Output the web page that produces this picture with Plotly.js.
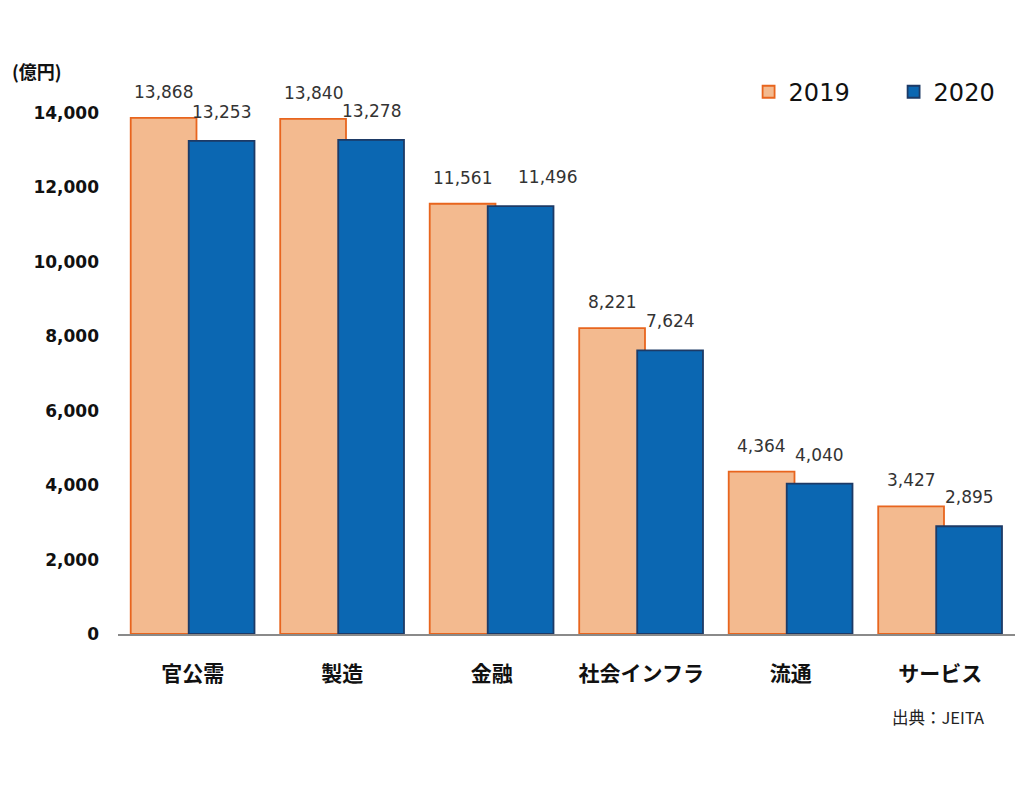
<!DOCTYPE html>
<html>
<head>
<meta charset="utf-8">
<script src="https://cdn.plot.ly/plotly-3.0.1.min.js"></script>
<style>html,body{margin:0;padding:0;background:#fff;}#chart{width:1033px;height:809px;}</style>
</head>
<body>
<div id="chart"></div>
<script>
const categories = ["官公需", "製造", "金融", "社会インフラ", "流通", "サービス"];
const values2019 = [13868, 13840, 11561, 8221, 4364, 3427];
const values2020 = [13253, 13278, 11496, 7624, 4040, 2895];
const seriesNames = ["2019", "2020"];
const yTicks = [0, 2000, 4000, 6000, 8000, 10000, 12000, 14000];

const fmt = v => v.toLocaleString("en-US");
const labelFont = {family: "DejaVu Sans, Verdana, sans-serif", size: 17, color: "#333333"};

const traces = [
  {
    type: "bar", name: seriesNames[0], x: categories, y: values2019,
    offset: -0.415, width: 0.44,
    marker: {color: "#F3BA8F", line: {color: "#E8651E", width: 1.8}},
    hoverinfo: "x+y"
  },
  {
    type: "bar", name: seriesNames[1], x: categories, y: values2020,
    offset: -0.027, width: 0.44,
    marker: {color: "#0B67B2", line: {color: "#1D3A66", width: 1.8}},
    hoverinfo: "x+y"
  }
];

const annotations = [];
categories.forEach((c, i) => {
  // when both values are nearly equal, the 2020 label is nudged right so the two labels do not collide
  const close = Math.abs(values2019[i] - values2020[i]) < 300;
  annotations.push({x: c, y: values2019[i], text: fmt(values2019[i]), showarrow: false,
    xanchor: "center", yanchor: "bottom", xshift: -29, yshift: 14, font: labelFont});
  annotations.push({x: c, y: values2020[i], text: fmt(values2020[i]), showarrow: false,
    xanchor: "center", yanchor: "bottom", xshift: close ? 56 : 29, yshift: 17, font: labelFont});
});
annotations.push({xref: "paper", yref: "paper", x: -0.12, y: 1.08, xanchor: "left", yanchor: "middle",
  text: "<b>(億円)</b>", showarrow: false,
  font: {family: "Noto Sans CJK JP, DejaVu Sans, sans-serif", size: 18, color: "#111"}});
annotations.push({xref: "paper", yref: "paper", x: 0.968, y: -0.16, xanchor: "right", yanchor: "middle",
  text: "出典：JEITA", showarrow: false,
  font: {family: "Noto Sans CJK JP, sans-serif", size: 16.5, color: "#222"}});

const layout = {
  width: 1033, height: 809,
  margin: {l: 118, r: 18, t: 113, b: 175, autoexpand: false},
  paper_bgcolor: "#fff", plot_bgcolor: "#fff",
  barmode: "overlay",
  showlegend: true,
  legend: {orientation: "h", x: 0.703, y: 1.04, xanchor: "left", yanchor: "middle",
    font: {family: "DejaVu Sans, Verdana, sans-serif", size: 24, color: "#111"},
    itemwidth: 30, entrywidth: 100, traceorder: "normal", bgcolor: "rgba(0,0,0,0)"},
  xaxis: {
    type: "category", range: [-0.5, 5.5], automargin: false,
    showline: true, linecolor: "#8a8a8a", linewidth: 2,
    ticks: "", showgrid: false, zeroline: false,
    tickfont: {family: "Noto Sans CJK JP, sans-serif", size: 21, color: "#111", weight: "bold"},
    ticklabelstandoff: 20
  },
  yaxis: {
    range: [0, 14000], tickvals: yTicks, ticktext: yTicks.map(v => "<b>" + fmt(v) + "</b>"),
    showgrid: false, zeroline: false, showline: false, ticks: "", automargin: false,
    tickfont: {family: "DejaVu Sans, Verdana, sans-serif", size: 17, color: "#111"},
    ticklabelstandoff: 18
  },
  annotations: annotations
};

Plotly.newPlot("chart", traces, layout, {displayModeBar: false, staticPlot: true});
</script>
</body>
</html>
